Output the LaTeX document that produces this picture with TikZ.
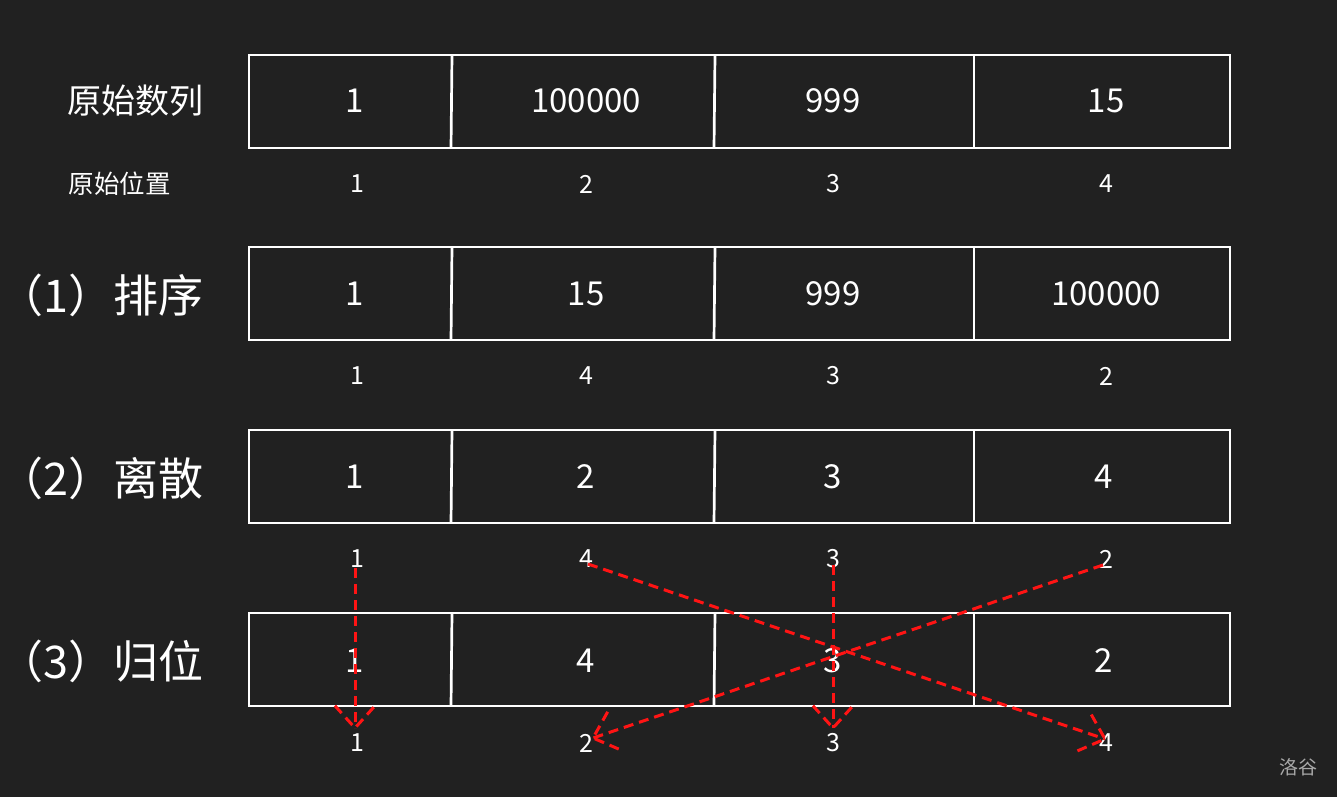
\documentclass[tikz,border=0pt]{standalone}
\usepackage{fontspec}
\setmainfont{Noto Sans CJK SC}
\usetikzlibrary{calc}
\definecolor{bg}{HTML}{212121}
\definecolor{redline}{HTML}{FF1414}
\definecolor{wm}{HTML}{A8A8A8}
\tikzset{
  boxline/.style={draw=white, line width=2.7pt},
  celltxt/.style={text=white, inner sep=0pt, font=\fontsize{33}{40}\selectfont},
  idxtxt/.style={text=white, inner sep=0pt, font=\fontsize{25}{30}\selectfont},
  biglabel/.style={text=white, inner sep=0pt, anchor=east, font=\fontsize{45}{52}\selectfont},
  midlabel/.style={text=white, inner sep=0pt, anchor=east, font=\fontsize{34}{40}\selectfont},
  smalllabel/.style={text=white, inner sep=0pt, anchor=east, font=\fontsize{25.5}{30}\selectfont},
  redarrow/.style={draw=redline, line width=3pt, dash pattern=on 10pt off 6pt},
}
\begin{document}
\begin{tikzpicture}[x=1pt,y=-1pt]
\fill[bg] (0,0) rectangle (1337,797);
\useasboundingbox (0,0) rectangle (1337,797);

% tables
\foreach \t in {55,247,430,613}{
  \draw[boxline] (249,\t) rectangle (1230,\t+93);
  \draw[boxline] (452,\t) -- (451,\t+93);
  \draw[boxline] (715,\t) -- (714,\t+93);
  \draw[boxline] (974,\t) -- (974,\t+93);
}

% row labels
\node[midlabel] (l0) at (204,101) {原始数列};
\node[smalllabel] (l0b) at (171,184) {原始位置};
\node[biglabel] (l1) at (204,295) {（1）排序};
\node[biglabel] (l2) at (204,478) {（2）离散};
\node[biglabel] (l3) at (204,661) {（3）归位};

% row 0
\node[celltxt] (a1) at (355,101) {1};
\node[celltxt] (a2) at (586,101) {100000};
\node[celltxt] (a3) at (833,101) {999};
\node[celltxt] (a4) at (1106,101) {15};
\node[idxtxt] (ai1) at (357,184) {1};
\node[idxtxt] (ai2) at (586,184) {2};
\node[idxtxt] (ai3) at (833,184) {3};
\node[idxtxt] (ai4) at (1106,184) {4};

% row 1
\node[celltxt] (b1) at (355,294) {1};
\node[celltxt] (b2) at (586,294) {15};
\node[celltxt] (b3) at (833,294) {999};
\node[celltxt] (b4) at (1106,294) {100000};
\node[idxtxt] (bi1) at (357,376) {1};
\node[idxtxt] (bi2) at (586,376) {4};
\node[idxtxt] (bi3) at (833,376) {3};
\node[idxtxt] (bi4) at (1106,376) {2};

% row 2
\node[celltxt] (c1) at (355,477) {1};
\node[celltxt] (c2) at (586,477) {2};
\node[celltxt] (c3) at (833,477) {3};
\node[celltxt] (c4) at (1104,477) {4};
\node[idxtxt] (ci1) at (357,559) {1};
\node[idxtxt] (ci2) at (586,559) {4};
\node[idxtxt] (ci3) at (833,559) {3};
\node[idxtxt] (ci4) at (1106,559) {2};

% row 3
\node[celltxt] (d1) at (355,661) {1};
\node[celltxt] (d2) at (586,661) {4};
\node[celltxt] (d3) at (833,661) {3};
\node[celltxt] (d4) at (1104,661) {2};
\node[idxtxt] (di1) at (357,743) {1};
\node[idxtxt] (di2) at (586,743) {2};
\node[idxtxt] (di3) at (833,743) {3};
\node[idxtxt] (di4) at (1106,743) {4};

% arrow end points
\coordinate (s1) at (355,568);
\coordinate (e1) at (355,728);
\coordinate (s2) at (588,564);
\coordinate (e2) at (1105,739);
\coordinate (s3) at (833,565);
\coordinate (e3) at (833,728);
\coordinate (s4) at (1103,565);
\coordinate (e4) at (593,738);

\foreach \i in {1,2,3,4}{
  \draw[redarrow] (s\i) -- (e\i);
  \draw[redarrow] ($(e\i)!30pt!42:(s\i)$) -- (e\i) -- ($(e\i)!30pt!-42:(s\i)$);
}

% watermark
\node[text=wm, inner sep=0pt, font=\fontsize{19}{23}\selectfont] (wmk) at (1298,767) {洛谷};
\end{tikzpicture}
\end{document}
